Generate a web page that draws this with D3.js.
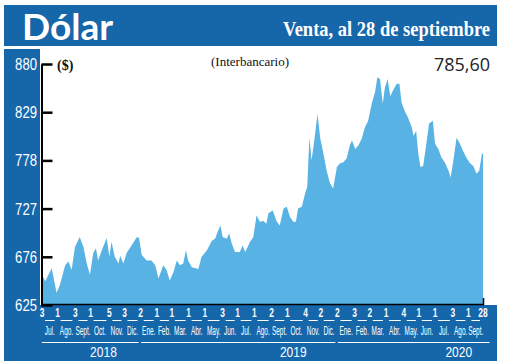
<!DOCTYPE html>
<html>
<head>
<meta charset="utf-8">
<script src="https://cdn.jsdelivr.net/npm/d3@7"></script>
<style>
  body { margin: 0; background: #fff; }
  svg { display: block; }
</style>
</head>
<body>
<div id="svg"></div>
<script>
// Datos: dólar interbancario, venta
var fechas = ["2018-07-03","2018-07-09","2018-07-21","2018-07-30","2018-08-05","2018-08-15","2018-08-21","2018-08-27",
  "2018-09-02","2018-09-11","2018-09-18","2018-09-24","2018-09-30","2018-10-06","2018-10-11","2018-10-15","2018-10-22",
  "2018-10-31","2018-11-05","2018-11-09","2018-11-15","2018-11-22","2018-11-25","2018-12-01","2018-12-07","2018-12-16",
  "2018-12-26","2018-12-30","2019-01-04","2019-01-13","2019-01-22","2019-01-29","2019-02-04","2019-02-13","2019-02-19",
  "2019-02-25","2019-03-04","2019-03-10","2019-03-16","2019-03-22","2019-03-27","2019-03-31","2019-04-07","2019-04-19",
  "2019-04-25","2019-05-05","2019-05-14","2019-05-20","2019-05-26","2019-05-30","2019-06-03","2019-06-11","2019-06-15",
  "2019-06-20","2019-06-26","2019-07-05","2019-07-10","2019-07-15","2019-07-24","2019-07-30","2019-08-05","2019-08-11",
  "2019-08-18","2019-08-23","2019-08-27","2019-09-04","2019-09-11","2019-09-17","2019-09-24","2019-09-30","2019-10-06",
  "2019-10-12","2019-10-17","2019-10-21","2019-10-28","2019-11-03","2019-11-07","2019-11-11","2019-11-15","2019-11-20",
  "2019-11-26","2019-12-01","2019-12-07","2019-12-13","2019-12-19","2019-12-25","2020-01-01","2020-01-07","2020-01-13",
  "2020-01-19","2020-01-25","2020-01-29","2020-02-04","2020-02-10","2020-02-16","2020-02-22","2020-02-28","2020-03-06",
  "2020-03-12","2020-03-16","2020-03-21","2020-03-26","2020-03-30","2020-04-04","2020-04-09","2020-04-15","2020-04-21",
  "2020-04-26","2020-04-30","2020-05-06","2020-05-12","2020-05-19","2020-05-22","2020-05-27","2020-05-31","2020-06-04",
  "2020-06-09","2020-06-14","2020-06-20","2020-06-27","2020-07-01","2020-07-07","2020-07-13","2020-07-20","2020-07-26",
  "2020-07-30","2020-08-04","2020-08-10","2020-08-16","2020-08-22","2020-08-29","2020-09-04","2020-09-10","2020-09-16",
  "2020-09-21","2020-09-26","2020-09-28"];

var valores = [657,650,664,638,646,667,671,662,
  686,697,686,669,657,680,685,672,683,
  696,676,692,676,669,677,669,680,688,
  697,696,678,672,672,667,653,667,662,
  651,660,672,667,669,683,672,665,663,
  676,683,693,695,704,709,697,695,701,
  690,681,681,688,681,692,697,720,713,
  714,711,722,725,714,709,727,729,718,
  713,713,727,729,743,750,802,778,799,
  827,802,785,767,754,748,771,775,776,
  780,794,799,790,794,801,813,820,839,
  851,866,864,838,855,864,846,853,859,
  859,839,830,823,813,804,809,785,771,
  772,792,817,820,796,790,781,775,767,
  760,778,802,796,788,780,775,772,764,
  767,785,785.6];

var ticksY = [625, 676, 727, 778, 829, 880];

// primer día hábil de cada mes y último dato
var fechasEje = ["2018-07-03","2018-08-01","2018-09-03","2018-10-01","2018-11-05","2018-12-03",
  "2019-01-02","2019-02-01","2019-03-01","2019-04-01","2019-05-01","2019-06-03","2019-07-01","2019-08-01",
  "2019-09-02","2019-10-01","2019-11-04","2019-12-02","2020-01-02","2020-02-03","2020-03-02","2020-04-01",
  "2020-05-04","2020-06-01","2020-07-01","2020-08-03","2020-09-01","2020-09-28"];

var meses = ["Jul.","Ago.","Sept.","Oct.","Nov.","Dic.","Ene.","Feb.","Mar.","Abr.","May.","Jun.","Jul.","Ago.",
  "Sept.","Oct.","Nov.","Dic.","Ene.","Feb.","Mar.","Abr.","May.","Jun.","Jul.","Ago.","Sept."];

var anios = ["2018", "2019", "2020"];
var aniosInicio = ["2018-07-01", "2019-01-01", "2020-01-01"];
var aniosFin = ["2018-12-31", "2019-12-31", "2020-10-12"];
var aniosEtiqueta = ["2018-10-25", "2019-10-12", "2020-08-14"];

var ultimoValor = "785,60";

var width = 520;
var height = 364;
var azul = "#1666aa";
var celeste = "#58b2e3";
var sansAngosta = "'Liberation Sans', Arial, sans-serif";

var parse = d3.timeParse("%Y-%m-%d");
var data = fechas.map(function(f, i) { return { fecha: parse(f), valor: valores[i] }; });

var svg = d3.select("#svg").append("svg")
    .attr("width", width)
    .attr("height", height);

var x = d3.scaleTime()
    .domain([parse("2018-07-03"), parse("2020-09-28")])
    .range([42, 483]);

var y = d3.scaleLinear()
    .domain([625, 880])
    .range([305, 64]);

// texto angosto: se comprime en horizontal
function textoAngosto(sel, cx, cy, escala) {
  return sel.attr("transform", function(d, i) {
      return "translate(" + cx(d, i) + "," + cy + ") scale(" + escala + ",1)";
    })
    .attr("x", 0).attr("y", 0)
    .attr("font-family", sansAngosta)
    .attr("fill", "#fff");
}

// marco azul
svg.append("rect").attr("x", 4).attr("y", 5).attr("width", 493).attr("height", 41).attr("fill", azul);
svg.append("rect").attr("x", 4).attr("y", 49).attr("width", 36).attr("height", 257).attr("fill", azul);
svg.append("rect").attr("x", 4).attr("y", 305).attr("width", 493).attr("height", 56).attr("fill", azul);

// títulos
svg.append("text")
    .attr("x", 22).attr("y", 40)
    .attr("font-family", "Lato, 'Open Sans', sans-serif")
    .attr("font-weight", "bold")
    .attr("font-size", 37)
    .attr("fill", "#fff")
    .attr("textLength", 91)
    .attr("lengthAdjust", "spacingAndGlyphs")
    .text("Dólar");

svg.append("text")
    .attr("x", 490).attr("y", 36)
    .attr("text-anchor", "end")
    .attr("font-family", "'Liberation Serif', serif")
    .attr("font-weight", "bold")
    .attr("font-size", 21)
    .attr("fill", "#fff")
    .attr("textLength", 207)
    .attr("lengthAdjust", "spacingAndGlyphs")
    .text("Venta, al 28 de septiembre");

// área
var area = d3.area()
    .x(function(d) { return x(d.fecha); })
    .y0(y(625))
    .y1(function(d) { return y(d.valor); });

svg.append("path")
    .datum(data)
    .attr("d", area)
    .attr("fill", celeste);

// eje y
svg.append("g")
    .attr("transform", "translate(41.5,0)")
    .call(d3.axisRight(y).tickValues(ticksY).tickSize(11).tickSizeOuter(0).tickFormat(""))
    .call(function(g) {
      g.select(".domain").attr("stroke", "#000").attr("stroke-width", 2);
      g.selectAll(".tick line").attr("stroke", "#000").attr("stroke-width", 2.5);
    });

svg.selectAll(".ylab")
    .data(ticksY)
    .enter().append("text")
    .attr("class", "ylab")
    .attr("text-anchor", "end")
    .attr("font-size", 16)
    .call(function(s) {
      s.attr("transform", function(d) { return "translate(37," + (y(d) + 6) + ") scale(0.82,1)"; })
       .attr("font-family", sansAngosta).attr("fill", "#fff");
    })
    .text(function(d) { return d; });

// línea base
svg.append("line")
    .attr("x1", 41).attr("x2", x(parse("2020-09-28")) + 1)
    .attr("y1", 304.5).attr("y2", 304.5)
    .attr("stroke", "#000").attr("stroke-width", 1.5);
svg.append("line")
    .attr("x1", x(parse("2020-09-28")) + 0.5).attr("x2", x(parse("2020-09-28")) + 0.5)
    .attr("y1", 298).attr("y2", 305)
    .attr("stroke", "#000").attr("stroke-width", 1.5);

// textos del gráfico
svg.append("text")
    .attr("x", 57).attr("y", 70)
    .attr("font-family", "'Liberation Serif', serif")
    .attr("font-weight", "bold")
    .attr("font-size", 14)
    .attr("fill", "#111")
    .text("($)");

svg.append("text")
    .attr("x", 250).attr("y", 66)
    .attr("text-anchor", "middle")
    .attr("font-family", "'Liberation Serif', serif")
    .attr("font-size", 13)
    .attr("fill", "#111")
    .text("(Interbancario)");

svg.append("text")
    .attr("x", 490).attr("y", 71)
    .attr("text-anchor", "end")
    .attr("font-family", "'Open Sans', sans-serif")
    .attr("font-size", 18)
    .attr("fill", "#222")
    .text(ultimoValor);

// eje x
var ejeX = fechasEje.map(function(f) { return parse(f); });
var fmtDia = d3.timeFormat("%-d");

svg.selectAll(".dia")
    .data(ejeX)
    .enter().append("text")
    .attr("class", "dia")
    .attr("text-anchor", "middle")
    .attr("font-weight", "bold")
    .attr("font-size", 12)
    .call(textoAngosto, function(d) { return x(d); }, 317, 0.7)
    .text(function(d) { return fmtDia(d); });

svg.selectAll(".sub")
    .data(meses)
    .enter().append("line")
    .attr("class", "sub")
    .attr("x1", function(d, i) { return x(ejeX[i]) + 3; })
    .attr("x2", function(d, i) { return x(ejeX[i + 1]) - 3; })
    .attr("y1", 320.5).attr("y2", 320.5)
    .attr("stroke", "#fff").attr("stroke-width", 1);

svg.selectAll(".mes")
    .data(meses)
    .enter().append("text")
    .attr("class", "mes")
    .attr("text-anchor", "middle")
    .attr("font-size", 12)
    .call(textoAngosto, function(d, i) { return (x(ejeX[i]) + x(ejeX[i + 1])) / 2; }, 335, 0.54)
    .text(function(d) { return d; });

svg.selectAll(".anioLinea")
    .data(anios)
    .enter().append("line")
    .attr("class", "anioLinea")
    .attr("x1", function(d, i) { return x(parse(aniosInicio[i])) + 1; })
    .attr("x2", function(d, i) { return x(parse(aniosFin[i])) - 1; })
    .attr("y1", 342.5).attr("y2", 342.5)
    .attr("stroke", "#fff").attr("stroke-width", 1);

svg.selectAll(".anio")
    .data(anios)
    .enter().append("text")
    .attr("class", "anio")
    .attr("text-anchor", "middle")
    .attr("font-size", 15)
    .call(textoAngosto, function(d, i) { return x(parse(aniosEtiqueta[i])); }, 357, 0.8)
    .text(function(d) { return d; });
</script>
</body>
</html>
